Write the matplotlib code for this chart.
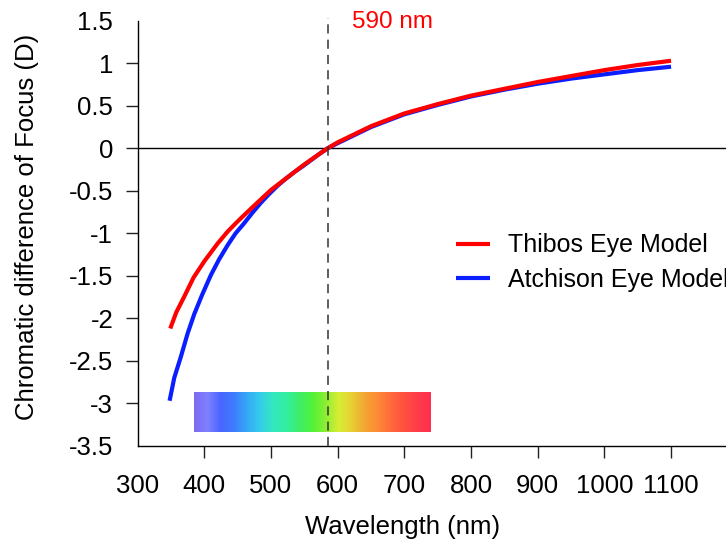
import matplotlib.pyplot as plt
from matplotlib.colors import LinearSegmentedColormap
import numpy as np

plt.rcParams['font.family'] = ['Liberation Sans', 'DejaVu Sans']

# values
thibos_nm = [349, 358, 369, 384, 400, 420, 435, 450, 470, 485, 500, 520, 550, 570, 585,
             600, 650, 700, 750, 800, 850, 900, 950, 1000, 1050, 1100]
thibos_d = [-2.12, -1.93, -1.76, -1.52, -1.33, -1.12, -0.98, -0.86, -0.71, -0.60, -0.49, -0.37,
            -0.19, -0.08, 0.0, 0.07, 0.26, 0.41, 0.52, 0.62, 0.70, 0.78, 0.85, 0.92, 0.98, 1.03]

atchison_nm = [348, 355, 365, 375, 385, 397, 410, 422, 435, 447, 460, 472, 485, 497, 510,
               522, 535, 548, 560, 572, 585, 600, 650, 700, 750, 800, 850, 900, 950, 1000, 1050, 1100]
atchison_d = [-2.97, -2.70, -2.45, -2.18, -1.95, -1.72, -1.49, -1.31, -1.14, -1.00, -0.88, -0.76,
              -0.64, -0.54, -0.44, -0.36, -0.28, -0.21, -0.14, -0.07, 0.0, 0.06, 0.25, 0.40, 0.51,
              0.61, 0.69, 0.76, 0.82, 0.87, 0.92, 0.96]

x_ticks = [300, 400, 500, 600, 700, 800, 900, 1000, 1100]
y_ticks = [-3.5, -3, -2.5, -2, -1.5, -1, -0.5, 0, 0.5, 1, 1.5]
marker_nm = 585
spectrum_nm = (385, 740)
spectrum_d = (-3.335, -2.87)

spectrum_colors = ['#7a6cf2', '#7f80ff', '#4a66ff', '#3f7cff', '#35a8f5', '#33cdea', '#33e8c0',
                   '#33eea0', '#3cee6a', '#52f23a', '#8cee33', '#d8ee33', '#e8cf33', '#f3a533',
                   '#fd8a35', '#ff6a3c', '#ff5040', '#ff3d48', '#ff2f4f']

fig = plt.figure(figsize=(7.26, 5.45), dpi=100)
ax = fig.add_axes([0.1895, 0.182, 0.9185, 0.7798])

cmap = LinearSegmentedColormap.from_list('spec', spectrum_colors)
ax.imshow(np.linspace(0, 1, 256)[None, :], cmap=cmap, aspect='auto',
          extent=[spectrum_nm[0], spectrum_nm[1], spectrum_d[0], spectrum_d[1]], zorder=1)

ax.axhline(0, color='black', lw=1.0, zorder=2)
ax.vlines(marker_nm, -3.5, 1.53, colors='#333333', linestyles=(0, (6, 4)), lw=1.1,
          clip_on=False, zorder=5)

ax.plot(atchison_nm, atchison_d, color='#0a1eff', lw=3.0, label='Atchison Eye Model',
        solid_capstyle='butt', zorder=3)
ax.plot(thibos_nm, thibos_d, color='#ff0000', lw=3.0, label='Thibos Eye Model',
        solid_capstyle='butt', zorder=4)

ax.text(622, 1.49, '590 nm', color='#ff0000', fontsize=17.5, ha='left', va='center')

ax.set_xlim(300, 1300)
ax.set_ylim(-3.5, 1.5)
ax.set_xticks(x_ticks)
ax.set_xticklabels([str(v) for v in x_ticks])
ax.set_yticks(y_ticks)
ax.set_yticklabels(['%g' % v for v in y_ticks])
ax.tick_params(axis='both', direction='out', length=8.6, width=1.0, labelsize=18.5, color='#222222')
ax.tick_params(axis='x', pad=12)
ax.tick_params(axis='y', pad=9)
ax.xaxis.get_major_ticks()[0].tick1line.set_visible(False)
yt = ax.yaxis.get_major_ticks()
yt[0].tick1line.set_visible(False)
yt[-1].tick1line.set_visible(False)

for s in ['top', 'right']:
    ax.spines[s].set_visible(False)
ax.spines['left'].set_linewidth(1.0)
ax.spines['bottom'].set_linewidth(1.0)

ax.set_xlabel('Wavelength (nm)', fontsize=18.5)
ax.set_ylabel('Chromatic difference of Focus (D)', fontsize=18.5)
ax.xaxis.set_label_coords(0.398, -0.162)
ax.yaxis.set_label_coords(-0.148, 0.514)

handles, labels = ax.get_legend_handles_labels()
ax.legend(handles[::-1], labels[::-1], loc='upper left', bbox_to_anchor=(0.628, 0.572),
          bbox_transform=fig.transFigure, frameon=False, fontsize=18, handlelength=1.36,
          handletextpad=0.73, labelspacing=0.43, borderpad=0, borderaxespad=0)

fig.savefig('out.png', dpi=100)
